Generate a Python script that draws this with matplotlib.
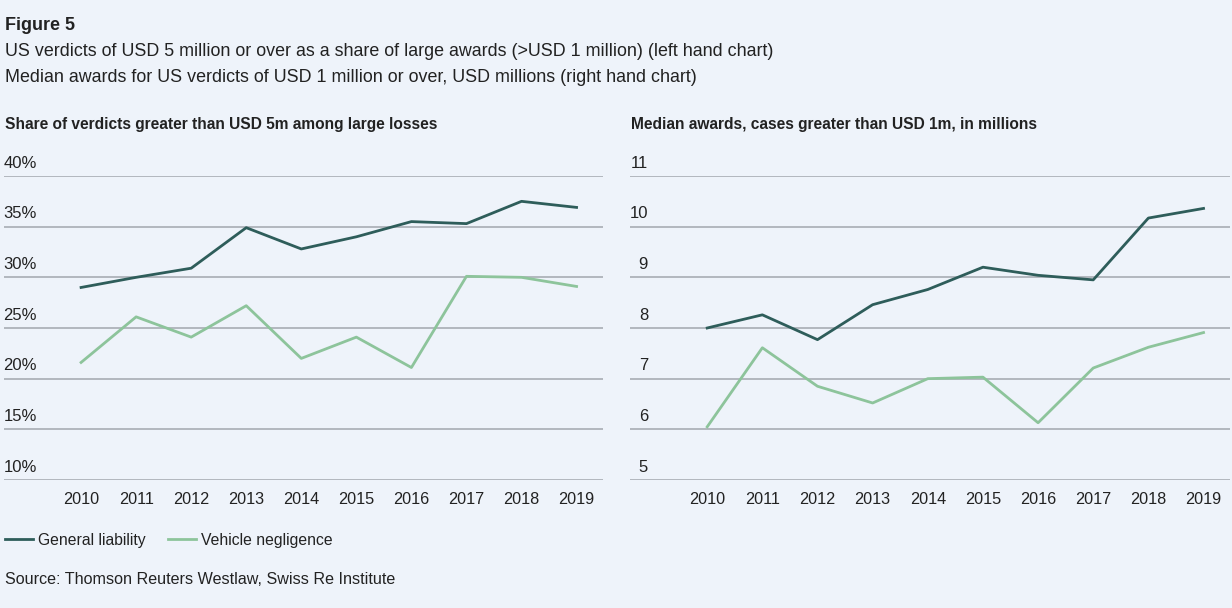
import matplotlib.pyplot as plt
import matplotlib.transforms as mtransforms

years = [2010, 2011, 2012, 2013, 2014, 2015, 2016, 2017, 2018, 2019]

# left chart: share of verdicts > USD 5m (%)
share_gl = [29.0, 30.0, 30.9, 34.9, 32.8, 34.0, 35.5, 35.3, 37.5, 36.9]
share_vn = [21.6, 26.1, 24.1, 27.2, 22.0, 24.1, 21.1, 30.1, 30.0, 29.1]
share_ticks = [10, 15, 20, 25, 30, 35, 40]

# right chart: median awards (USD m)
median_gl = [8.0, 8.26, 7.77, 8.46, 8.76, 9.2, 9.04, 8.95, 10.17, 10.36]
median_vn = [6.05, 7.61, 6.85, 6.52, 7.0, 7.03, 6.13, 7.21, 7.62, 7.91]
median_ticks = [5, 6, 7, 8, 9, 10, 11]

series_names = ['General liability', 'Vehicle negligence']

bg = '#eef3fa'
dark = '#2e5d5a'
light = '#8dc49b'
grid_c = '#a2a7ae'
txt = '#222222'

plt.rcParams['font.family'] = ['Liberation Sans', 'DejaVu Sans']

W, H = 1232, 608
fig = plt.figure(figsize=(W / 100, H / 100), dpi=100, facecolor=bg)


def px_axes(x0, y_top, x1, y_bot):
    return fig.add_axes([x0 / W, (H - y_bot) / H, (x1 - x0) / W, (y_bot - y_top) / H])


def setup(ax, ticks, labels, lab_right):
    ax.set_facecolor(bg)
    for s in ax.spines.values():
        s.set_visible(False)
    ax.set_ylim(ticks[0], ticks[-1])
    ax.set_yticks([])
    for t in ticks:
        ax.axhline(t, color=grid_c, lw=1.1, zorder=1)
    tr = mtransforms.offset_copy(ax.get_yaxis_transform(), fig=fig, y=13, units='dots')
    for t, lab in zip(ticks, labels):
        ax.text(lab_right, t, lab, transform=tr, ha='right', va='center',
                fontsize=12, color=txt)
    ax.set_xlim(2008.6, 2019.48)
    ax.set_xticks(years)
    ax.tick_params(axis='x', length=0, pad=9, labelsize=11.7, labelcolor=txt)


ax1 = px_axes(4, 176, 603, 480)
setup(ax1, share_ticks, [f'{t}%' for t in share_ticks], (37 - 4) / 599)
ax1.plot(years, share_gl, color=dark, lw=2.0, zorder=3, label=series_names[0])
ax1.plot(years, share_vn, color=light, lw=2.0, zorder=3, label=series_names[1])

ax2 = px_axes(630, 176, 1230, 480)
setup(ax2, median_ticks, [str(t) for t in median_ticks], (648 - 630) / 600)
ax2.plot(years, median_gl, color=dark, lw=2.0, zorder=3)
ax2.plot(years, median_vn, color=light, lw=2.0, zorder=3)

# titles
fig.text(5 / W, 1 - 25 / H, 'Figure 5', fontsize=13, fontweight='bold', color=txt, va='center')
fig.text(5 / W, 1 - 52 / H,
         'US verdicts of USD 5 million or over as a share of large awards (>USD 1 million) (left hand chart)',
         fontsize=12.9, color=txt, va='center')
fig.text(5 / W, 1 - 78 / H,
         'Median awards for US verdicts of USD 1 million or over, USD millions (right hand chart)',
         fontsize=12.9, color=txt, va='center')
fig.text(5 / W, 1 - 125 / H, 'Share of verdicts greater than USD 5m among large losses',
         fontsize=11.2, fontweight='bold', color=txt, va='center')
fig.text(631 / W, 1 - 125 / H, 'Median awards, cases greater than USD 1m, in millions',
         fontsize=11.2, fontweight='bold', color=txt, va='center')

leg = fig.legend(loc='center left', bbox_to_anchor=(0, 1 - 540 / H), ncol=2, frameon=False,
                 fontsize=11.3, handlelength=1.75, handletextpad=0.35, columnspacing=1.4,
                 borderaxespad=0, borderpad=0.35)
for t in leg.get_texts():
    t.set_color(txt)

fig.text(5 / W, 1 - 580 / H, 'Source: Thomson Reuters Westlaw, Swiss Re Institute',
         fontsize=11.6, color=txt, va='center')

fig.savefig('out.png', dpi=100, facecolor=bg)
